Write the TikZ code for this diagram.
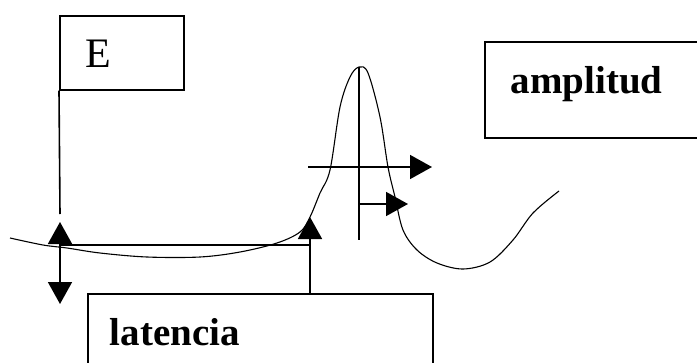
\documentclass[tikz,border=0pt]{standalone}
\usepackage{fontspec}
\setmainfont{Liberation Serif}
\usetikzlibrary{arrows.meta}
\begin{document}
\begin{tikzpicture}[x=1pt,y=-1pt,
  box/.style={draw, line width=1.6pt, anchor=north west, inner ysep=0pt, align=left},
  ln/.style={line width=1.6pt},
  tri/.style={-{Triangle[length=22pt,width=24pt]}, line width=1.6pt},
  wave/.style={line width=1.1pt}
]
\useasboundingbox (0,0) rectangle (697,362);
% boxes
\node[box, minimum width=124pt, minimum height=74pt, inner xsep=26pt, text width=72pt,
      text height=30pt, text depth=0pt, font=\fontsize{42}{42}\selectfont] (E) at (59,15) {E};
\node[box, minimum width=230pt, minimum height=96pt, inner xsep=26pt, text width=178pt,
      text height=28pt, text depth=20pt, font=\fontsize{39}{39}\selectfont\bfseries] (amp) at (484,41) {amplitud};
\node[box, minimum width=345pt, minimum height=90pt, inner xsep=22pt, text width=301pt,
      text height=30pt, text depth=17pt, font=\fontsize{39}{39}\selectfont\bfseries] (lat) at (87,293) {latencia};
% key points
\coordinate (s0) at (60,245);
\coordinate (s0up) at (60,222);
\coordinate (s0dn) at (60,304);
\coordinate (s1) at (310,245);
\coordinate (s1up) at (310,217);
\coordinate (peak) at (359,67);
\coordinate (pbot) at (359,240);
\coordinate (h0) at (308,167);
\coordinate (h1) at (432,167);
\coordinate (m0) at (359,204);
\coordinate (m1) at (408,204);
% connectors
\draw[ln] (E.south west) -- (60,214);
\draw[tri] (s0) -- (s0up);
\draw[tri] (s0) -- (s0dn);
\draw[ln] (s0) -- (s1);
\draw[tri] (lat.north west -| s1) -- (s1up);
\draw[ln] (peak) -- (pbot);
\draw[tri] (h0) -- (h1);
\draw[tri] (m0) -- (m1);
% waveform
\draw[wave] plot[smooth, tension=0.55] coordinates {
 (10,238) (43,245) (67,248) (100,253) (147,257) (200,257) (240,252) (277,243)
 (300,232) (310,217) (320,193) (330,170) (340,107) (350,77) (359,67) (368,73)
 (380,117) (388,167) (395,197) (403,230) (417,250) (437,263) (463,269) (490,262)
 (513,240) (533,213) (559,191)};
\end{tikzpicture}
\end{document}
